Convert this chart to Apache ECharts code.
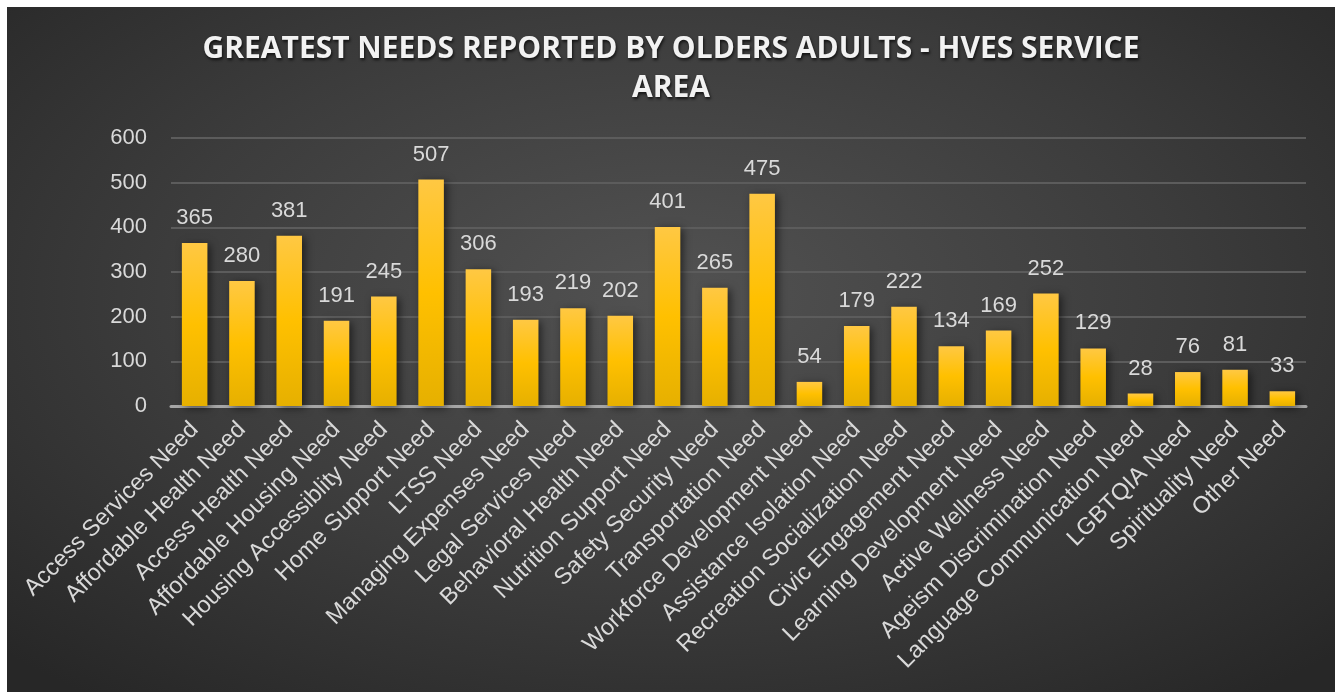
<!DOCTYPE html>
<html><head><meta charset="utf-8">
<script src="https://cdn.jsdelivr.net/npm/echarts@6/dist/echarts.min.js"></script>
<style>
html,body{margin:0;padding:0;background:#fff;width:1344px;height:692px;overflow:hidden}
#c{position:absolute;left:7px;top:7px;width:1328px;height:685px;
background:radial-gradient(ellipse 70% 75% at 50% 42%, #525252 0%, #3c3c3c 55%, #272727 100%);}
</style></head>
<body><div id="c"></div>
<script>
const titleText = 'GREATEST NEEDS REPORTED BY OLDERS ADULTS - HVES SERVICE\nAREA';
const categories = ['Access Services Need','Affordable Health Need','Access Health Need','Affordable Housing Need','Housing Accessiblity Need','Home Support Need','LTSS Need','Managing Expenses Need','Legal Services Need','Behavioral Health Need','Nutrition Support Need','Safety Security Need','Transportation Need','Workforce Development Need','Assistance Isolation Need','Recreation Socialization Need','Civic Engagement Need','Learning Development Need','Active Wellness Need','Ageism Discrimination Need','Language Communication Need','LGBTQIA Need','Spirituality Need','Other Need'];
const values = [365,280,381,191,245,507,306,193,219,202,401,265,475,54,179,222,134,169,252,129,28,76,81,33];

const chart = echarts.init(document.getElementById('c'), null, {renderer:'canvas'});
chart.setOption({
  backgroundColor:'transparent',
  animation:false,
  title:{
    text:titleText, left:'center', top:18,
    textStyle:{color:'#f2f2f2', fontFamily:'Open Sans', fontWeight:'bold', fontSize:30, lineHeight:39,
      textShadowColor:'rgba(0,0,0,0.7)', textShadowBlur:3, textShadowOffsetX:1, textShadowOffsetY:2}
  },
  grid:{left:164, right:29, top:131, bottom:286, containLabel:false},
  xAxis:{
    type:'category', data:categories,
    axisLine:{lineStyle:{color:'#a6a6a6', width:3}},
    axisTick:{show:false},
    axisLabel:{rotate:45, interval:0, margin:20, color:'#d9d9d9', fontFamily:'Liberation Sans', fontSize:23.5}
  },
  yAxis:{
    type:'value', min:0, max:600, interval:100,
    axisLine:{show:false}, axisTick:{show:false},
    splitLine:{lineStyle:{color:'#5c5c5c', width:2}},
    axisLabel:{margin:24, color:'#d9d9d9', fontFamily:'Liberation Sans', fontSize:22}
  },
  series:[{
    type:'bar', data:values, barWidth:'54%',
    itemStyle:{
      color:new echarts.graphic.LinearGradient(0,0,0,1,[
        {offset:0,color:'#ffc843'},{offset:0.5,color:'#ffc000'},{offset:1,color:'#e6b000'}]),
      shadowColor:'rgba(0,0,0,0.55)', shadowBlur:8, shadowOffsetX:3, shadowOffsetY:2
    },
    label:{show:true, position:'top', distance:14, color:'#d9d9d9', fontFamily:'Liberation Sans', fontSize:22}
  }]
});
</script></body></html>
